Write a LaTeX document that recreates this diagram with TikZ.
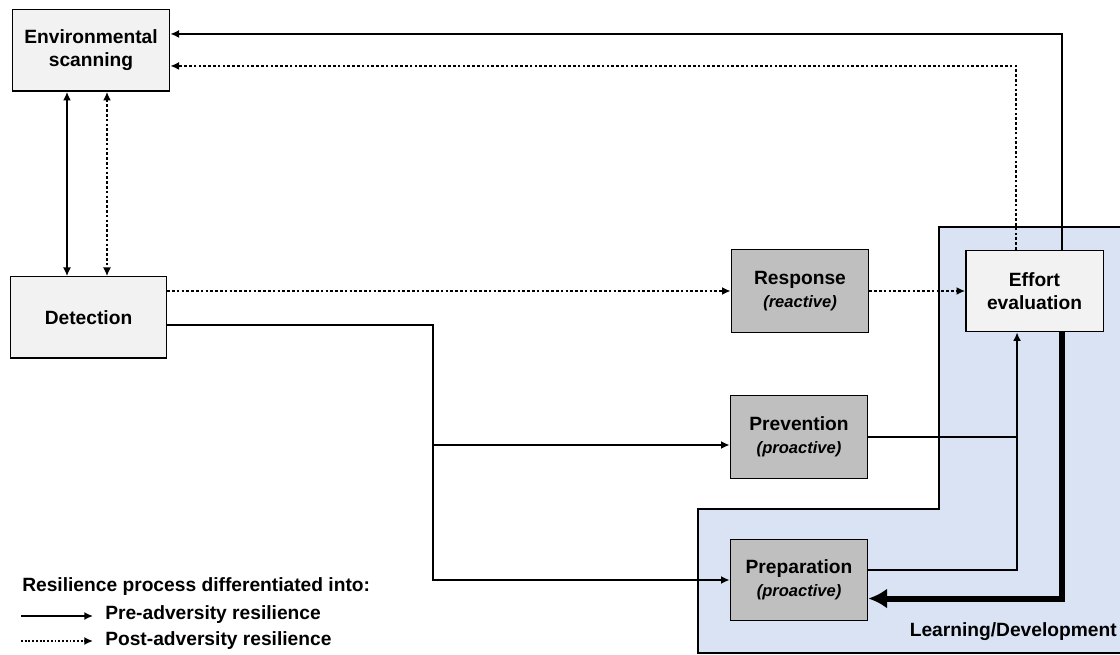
\documentclass[tikz,border=0pt]{standalone}
\usepackage{fontspec}
\setmainfont{Liberation Sans}
\usetikzlibrary{arrows.meta}
\definecolor{boxlight}{HTML}{F2F2F2}
\definecolor{boxdark}{HTML}{BFBFBF}
\definecolor{learnblue}{HTML}{DAE3F3}
\newcommand{\subtag}[1]{{\fontsize{12.4}{15}\selectfont\itshape #1}}

\begin{document}
\begin{tikzpicture}[x=0.75pt,y=-0.75pt,font=\bfseries\fontsize{14.4}{17.3}\selectfont,
    >={Latex[length=6.5pt,width=6pt]},
    stage/.style={draw,line width=1pt,fill=boxlight,align=center,inner sep=2pt,
        minimum width=118pt,minimum height=61pt},
    action/.style={stage,fill=boxdark,minimum width=103pt,minimum height=62pt},
    pre/.style={line width=1.8pt},
    post/.style={line width=2pt,dash pattern=on 2pt off 1.6pt},
    legend/.style={anchor=west,inner sep=0pt}]
    \useasboundingbox (0,0) rectangle (1120,655);

    % learning area
    \fill[learnblue,draw=black,line width=2pt] (939,227) -- (1124,227) -- (1124,653)
        -- (698,653) -- (698,509) -- (939,509) -- cycle;
    \node[anchor=east,inner sep=0pt] (learn) at (1117,632) {Learning/Development};

    \node[stage] (env) at (91,50.5) {Environmental\\scanning};
    \node[stage,minimum width=117pt] (det) at (88.5,317.5) {Detection};
    \node[action] (resp) at (800,291) {Response\\\subtag{(reactive)}};
    \node[stage,minimum width=103pt] (eff) at (1034.5,291) {Effort\\evaluation};
    \node[action] (prev) at (799,437) {Prevention\\\subtag{(proactive)}};
    \node[action,minimum height=61pt] (prep) at (799,580) {Preparation\\\subtag{(proactive)}};
    % \node[action] (prep) at (799,580) {Preparation};

    \coordinate (fork) at (433,445);

    \draw[pre,line width=2.2pt,<->] ([xshift=-18pt]env.south) -- ([xshift=-18pt]env.south |- det.north);
    \draw[post,<->] ([xshift=12pt]env.south) -- ([xshift=12pt]env.south |- det.north);

    \draw[post,->] (det.east |- resp.west) -- (resp.west);
    \draw[post,->] (resp.east) -- (eff.west);

    \draw[pre] ([yshift=-5.6pt]det.east) -| (fork);
    \draw[pre,->] (fork) |- (prep.west);
    \draw[pre,->] (fork) -- (prev.west |- fork);

    \draw[pre] (prev.east) -- ([xshift=-13.1pt]eff.south |- prev.east);
    \draw[pre,->] ([yshift=7.5pt]prep.east) -| ([xshift=-13.1pt]eff.south);
    \draw[line width=4.5pt,-{Latex[length=14pt,width=15pt]}] ([xshift=20.6pt]eff.south)
        |- ([yshift=-13.9pt]prep.east);

    \draw[pre,->] ([xshift=20.6pt]eff.north) |- ([yshift=12.4pt]env.east);
    \draw[post,->] ([xshift=-13.9pt]eff.north) |- ([yshift=-11.6pt]env.east);

    % legend
    \node[legend] (legtitle) at (22,587) {Resilience process differentiated into:};
    \node[legend] (prelab) at (105,615) {Pre-adversity resilience};
    \node[legend] (postlab) at (105,641) {Post-adversity resilience};
    \coordinate (preA) at (21,616);
    \coordinate (preB) at (93,616);
    \coordinate (postA) at (21,641);
    \coordinate (postB) at (93,641);
    \draw[line width=1.6pt,->] (preA) -- (preB);
    \draw[line width=1.4pt,dash pattern=on 1.4pt off 1.4pt,->] (postA) -- (postB);
\end{tikzpicture}
\end{document}
